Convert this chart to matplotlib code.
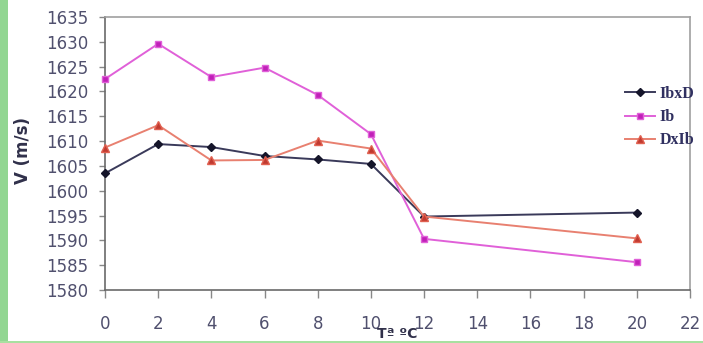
import matplotlib
matplotlib.use("Agg")
import matplotlib.pyplot as plt
from matplotlib.patches import Rectangle

# Temperature (ºC) and sound velocity (m/s) for each cross
temps = [0, 2, 4, 6, 8, 10, 12, 20]
ibxd = [1603.5, 1609.4, 1608.8, 1607.0, 1606.3, 1605.4, 1594.8, 1595.6]
ib = [1622.5, 1629.6, 1622.9, 1624.8, 1619.3, 1611.4, 1590.3, 1585.6]
dxib = [1608.7, 1613.2, 1606.1, 1606.2, 1610.1, 1608.5, 1594.8, 1590.4]

series_names = ["IbxD", "Ib", "DxIb"]
x_ticks = list(range(0, 23, 2))
y_ticks = list(range(1580, 1636, 5))

W, H = 703, 343
fig = plt.figure(figsize=(W / 100, H / 100), dpi=100)
fig.patch.set_facecolor("white")

ax = fig.add_axes([105 / W, 1 - 290 / H, 585 / W, 273 / H])

tick_color = "#50506e"

ax.plot(temps, ibxd, color="#3a3a5a", lw=1.4, marker="D", ms=4.5,
        mfc="#15152a", mec="#15152a", label=series_names[0], clip_on=False, zorder=3)
ax.plot(temps, ib, color="#e060d8", lw=1.4, marker="s", ms=5,
        mfc="#c020b8", mec="#e060d8", label=series_names[1], clip_on=False, zorder=3)
ax.plot(temps, dxib, color="#e88070", lw=1.4, marker="^", ms=5.5,
        mfc="#c03a30", mec="#e06050", label=series_names[2], clip_on=False, zorder=3)

ax.set_xlim(0, 22)
ax.set_ylim(1580, 1635)
ax.set_xticks(x_ticks)
ax.set_yticks(y_ticks)

ax.tick_params(axis="y", direction="out", length=4, width=1, color="#888888",
               pad=8, labelsize=12, labelcolor=tick_color)
ax.tick_params(axis="x", direction="out", length=6, width=1, color="#888888",
               pad=12, labelsize=12, labelcolor=tick_color)

for side in ("left", "bottom"):
    ax.spines[side].set_color("#6a6a6a")
    ax.spines[side].set_linewidth(1.2)
for side in ("top", "right"):
    ax.spines[side].set_color("#a0a0a0")
    ax.spines[side].set_linewidth(1.2)

ax.set_ylabel("V (m/s)", fontsize=12, fontweight="bold", color="#30304a")
ax.yaxis.set_label_coords(-(105 - 23) / 585, 0.51)
ax.yaxis.label.set_va("center")
ax.set_xlabel("Tª ºC", fontsize=10, fontweight="bold", color="#30304a")
ax.xaxis.set_label_coords(0.5, -(334 - 290) / 273)
ax.xaxis.label.set_va("center")

leg = ax.legend(loc="upper left", bbox_to_anchor=(617 / W, 1 - 78 / H),
                bbox_transform=fig.transFigure, frameon=False, borderpad=0,
                handlelength=1.9, handletextpad=0.25, labelspacing=0.45,
                prop={"family": "Liberation Serif", "weight": "bold", "size": 11.5})
for t in leg.get_texts():
    t.set_color("#303060")

# light green frame strips along the left and bottom edges
fig.patches.append(Rectangle((0, 0), 8 / W, 1, transform=fig.transFigure,
                             facecolor="#92d692", edgecolor="none", zorder=10))
fig.patches.append(Rectangle((0, 0), 1, 2.5 / H, transform=fig.transFigure,
                             facecolor="#a8e0a0", edgecolor="none", zorder=10))

fig.savefig("out.png", dpi=100)
